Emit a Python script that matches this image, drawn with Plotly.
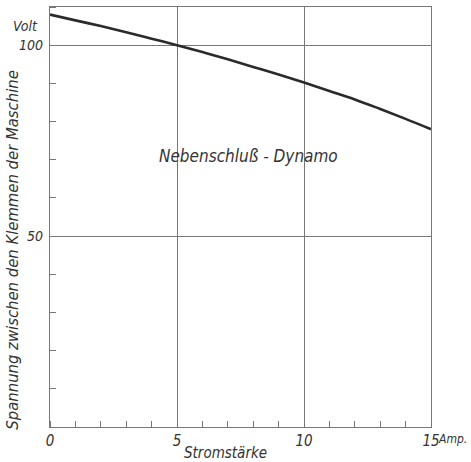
import plotly.graph_objects as go

# Shunt dynamo: terminal voltage vs. load current
current_amp = [0, 1, 2, 3, 4, 5, 6, 7, 8, 9, 10, 11, 12, 13, 14, 15]
voltage = [108, 106.5, 105, 103.4, 101.7, 100, 98.2, 96.3, 94.3, 92.3, 90.2, 88.0, 85.8, 83.3, 80.7, 78]

x_tickvals = [0, 5, 10, 15]
x_ticktext = ["0", "5", "10", "15"]
x_unit = "Amp."
y_tickvals = [50, 100]
y_ticktext = ["50", "100"]
y_unit = "Volt"

FONT = "DejaVu Sans Condensed, Liberation Sans Narrow, sans-serif"
INK = "#333"
GRID = "#777"

fig = go.Figure()
fig.add_trace(go.Scatter(
    x=current_amp, y=voltage, mode="lines",
    line=dict(color="#2a2a2a", width=2.6, shape="spline"),
    hoverinfo="skip", showlegend=False,
))

fig.update_layout(
    width=471, height=462,
    margin=dict(l=50, r=40, t=7, b=35),
    paper_bgcolor="white", plot_bgcolor="white",
    font=dict(family=FONT, color=INK, size=14, style="italic"),
    xaxis=dict(
        range=[0, 15], showline=True, mirror=True, linecolor=GRID, linewidth=1.2,
        showgrid=True, gridcolor=GRID, gridwidth=1, zeroline=False,
        tickvals=x_tickvals, ticktext=x_ticktext, ticks="", ticklabelstandoff=0,
        tickfont=dict(family=FONT, size=15, color=INK, style="italic"),
        minor=dict(dtick=1, ticks="inside", ticklen=6, tickcolor=GRID, showgrid=False),
    ),
    yaxis=dict(
        range=[0, 110], showline=True, mirror=True, linecolor=GRID, linewidth=1.2,
        showgrid=True, gridcolor=GRID, gridwidth=1, zeroline=False,
        tickvals=y_tickvals, ticktext=y_ticktext, ticks="", ticklabelstandoff=3,
        tickfont=dict(family=FONT, size=14, color=INK, style="italic"),
        minor=dict(dtick=10, ticks="inside", ticklen=6, tickcolor=GRID, showgrid=False),
    ),
    showlegend=False,
)

# Unit labels next to the last tick on each axis
fig.add_annotation(text=x_unit, xref="paper", yref="paper", x=1.014, y=-0.029,
                   xanchor="left", yanchor="middle", showarrow=False,
                   font=dict(family=FONT, size=12, color=INK, style="italic"))
fig.add_annotation(text=y_unit, xref="paper", yref="y", x=-0.025, y=105,
                   xanchor="right", yanchor="middle", showarrow=False,
                   font=dict(family=FONT, size=14, color=INK, style="italic"))

# Axis captions and chart label
fig.add_annotation(text="Stromstärke", xref="paper", yref="paper", x=0.46, y=-0.062,
                   yanchor="middle", showarrow=False,
                   font=dict(family=FONT, size=15, color=INK, style="italic"))
fig.add_annotation(text="Spannung zwischen den Klemmen der Maschine", xref="paper", yref="paper",
                   x=-0.097, y=0.42, xanchor="center", yanchor="middle", textangle=-90,
                   showarrow=False, font=dict(family=FONT, size=16.5, color=INK, style="italic"))
fig.add_annotation(text="Nebenschluß - Dynamo", xref="x", yref="y", x=7.8, y=71,
                   showarrow=False, font=dict(family=FONT, size=17, color=INK, style="italic"))

fig.write_html("out.html")
